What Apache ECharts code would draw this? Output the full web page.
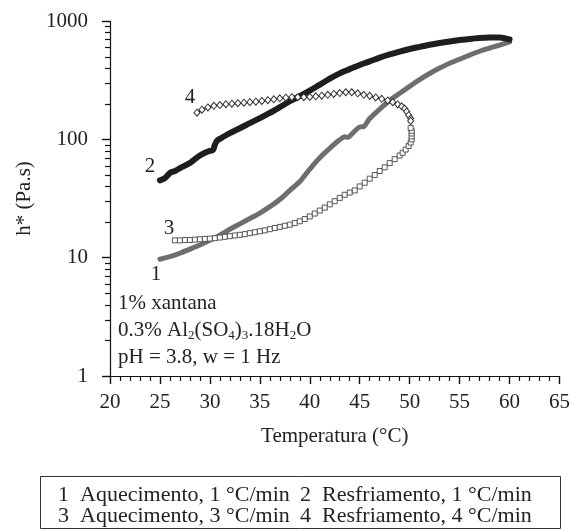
<!DOCTYPE html>
<html>
<head>
<meta charset="utf-8">
<title>Viscosidade complexa x temperatura</title>
<script src="https://cdn.jsdelivr.net/npm/echarts@6.0.0/dist/echarts.min.js"></script>
<style>
  html, body { margin: 0; padding: 0; background: #fff; }
  #chart { width: 573px; height: 530px; }
</style>
</head>
<body>
<div id="chart"></div>
<script>
const FONT = '"Liberation Serif", "Times New Roman", serif';

// Curve 1: heating at 1 °C/min  [temperature °C, h* Pa.s]
const heating1 = [
  [25, 9.7], [26, 10.2], [27, 10.9], [28, 11.8], [29, 12.8], [30, 14.0], [31, 15.5],
  [32, 17.4], [33, 19.3], [34, 21.4], [35, 23.8], [36, 27], [37, 31], [38, 37],
  [39, 44], [40, 56], [41, 70], [42, 84], [43, 99], [43.5, 105], [43.8, 104],
  [44.3, 113], [45, 127], [45.4, 128], [46, 150], [47, 180], [48, 213], [49, 245],
  [50, 280], [51, 320], [52, 360], [53, 400], [54, 440], [55, 475], [56, 515],
  [57, 555], [58, 590], [59, 625], [60, 665]
];

// Curve 2: cooling at 1 °C/min
const cooling1 = [
  [25, 45], [25.5, 47], [26, 52], [26.5, 54], [27, 57], [27.5, 60], [28, 63],
  [28.5, 68], [29, 73], [29.5, 77], [30, 80], [30.3, 81], [30.5, 90], [30.7, 97],
  [31, 101], [32, 113], [33, 124], [34, 137], [35, 151], [36, 167], [37, 187],
  [38, 210], [39, 232], [40, 258], [41, 290], [42, 326], [43, 361], [44, 392],
  [45, 425], [46, 456], [47, 490], [48, 522], [49, 552], [50, 580], [51, 605],
  [52, 630], [53, 652], [54, 672], [55, 690], [56, 706], [57, 718], [58, 725],
  [59, 727], [60, 700]
];

// Curve 3: heating at 3 °C/min
const heating3 = [
  [26.5, 14.0], [27, 14.0], [27.5, 14.1], [28, 14.1], [28.5, 14.2], [29, 14.3],
  [29.5, 14.4], [30, 14.5], [30.5, 14.6], [31, 14.8], [31.5, 15.0], [32, 15.2],
  [32.5, 15.4], [33, 15.6], [33.5, 15.8], [34, 16.1], [34.5, 16.4], [35, 16.7],
  [35.5, 17.0], [36, 17.4], [36.5, 17.8], [37, 18.2], [37.5, 18.6], [38, 19.0],
  [38.5, 19.6], [39, 20.3], [39.5, 21.2], [40, 22.3], [40.5, 23.6], [41, 25.0],
  [41.5, 26.5], [42, 28.2], [42.5, 30.0], [43, 32.0], [43.5, 34.0], [44, 35.5],
  [44.5, 37.0], [45, 40], [45.5, 43], [46, 46.5], [46.5, 50], [47, 54], [47.5, 58],
  [48, 63], [48.5, 68], [49, 73], [49.3, 77], [49.6, 82], [49.9, 88], [50.1, 94],
  [50.2, 100], [50.2, 106], [50.2, 112], [50.2, 118], [50.1, 125]
];

// Curve 4: cooling at 4 °C/min
const cooling4 = [
  [28.7, 168], [29.2, 178], [29.8, 186], [30.4, 192], [31, 195], [31.6, 198],
  [32.2, 200], [32.8, 202], [33.4, 204], [34, 206], [34.6, 208], [35.2, 211],
  [35.8, 214], [36.4, 218], [37, 222], [37.6, 225], [38.2, 227], [38.8, 227],
  [39.4, 227], [40, 228], [40.6, 231], [41.2, 234], [41.8, 238], [42.4, 242],
  [43, 246], [43.6, 250], [44.2, 250], [44.8, 245], [45.4, 238], [46, 233],
  [46.6, 226], [47.2, 220], [47.8, 213], [48.3, 206], [48.8, 197], [49.2, 190],
  [49.5, 182], [49.7, 172], [49.9, 160], [50.1, 150], [50.1, 143]
];

// Logarithmic minor tick values on the viscosity axis
const logMinorTicks = [
  2, 3, 4, 5, 6, 7, 8, 9,
  20, 30, 40, 50, 60, 70, 80, 90,
  200, 300, 400, 500, 600, 700, 800, 900
];

const curveTags = ['1', '2', '3', '4'];
const legendRows = [
  ['1  Aquecimento, 1 °C/min', '2  Resfriamento, 1 °C/min'],
  ['3  Aquecimento, 3 °C/min', '4  Resfriamento, 4 °C/min']
];
const noteLines = [
  '1% xantana',
  '{t|0.3% Al}{s|2}{t|(SO}{s|4}{t|)}{s|3}{t|.18H}{s|2}{t|O}',
  'pH = 3.8, w = 1 Hz'
];

// Tag the first point of a curve with its number
function tagFirst(points, tag, offset) {
  return points.map((p, i) => i === 0 ? {
    value: p,
    label: {
      show: true, position: 'inside', offset: offset, formatter: tag,
      fontFamily: FONT, fontSize: 21, color: '#222'
    }
  } : p);
}

const chart = echarts.init(document.getElementById('chart'), null, { renderer: 'canvas' });

const axisColor = '#111';
const textColor = '#222';

function legendText(x, y, text) {
  return {
    type: 'text', x: x, y: y,
    style: { text: text, fontFamily: FONT, fontSize: 22, fill: textColor, verticalAlign: 'middle' }
  };
}

const option = {
  backgroundColor: '#fff',
  animation: false,
  grid: { left: 110, right: 12, top: 21, bottom: 154, containLabel: false },
  xAxis: {
    type: 'value',
    min: 20, max: 65, interval: 5,
    name: 'Temperatura (°C)',
    nameLocation: 'middle',
    nameGap: 50,
    nameTextStyle: { fontFamily: FONT, fontSize: 21, color: textColor },
    axisLine: { show: true, lineStyle: { color: axisColor, width: 1.2 } },
    axisTick: { show: true, inside: false, length: 8, lineStyle: { color: axisColor, width: 1.4 } },
    minorTick: { show: true, splitNumber: 5, length: 5, lineStyle: { color: axisColor, width: 1.2 } },
    axisLabel: { fontFamily: FONT, fontSize: 21, color: textColor, margin: 16 },
    splitLine: { show: false },
    minorSplitLine: { show: false }
  },
  yAxis: {
    type: 'log',
    logBase: 10,
    min: 1, max: 1000,
    name: 'h* (Pa.s)',
    nameLocation: 'middle',
    nameRotate: 90,
    nameGap: 61,
    nameTextStyle: { fontFamily: FONT, fontSize: 21, color: textColor },
    axisLine: { show: true, lineStyle: { color: axisColor, width: 1.2 } },
    axisTick: { show: true, inside: false, length: 8, lineStyle: { color: axisColor, width: 1.4 } },
    minorTick: { show: false },
    axisLabel: {
      fontFamily: FONT, fontSize: 21, color: textColor, margin: 22,
      formatter: v => String(Math.round(v))
    },
    splitLine: { show: false }
  },
  series: [
    {
      name: 'Aquecimento, 1 °C/min',
      type: 'line',
      data: tagFirst(heating1, curveTags[0], [-4, 15]),
      symbol: 'circle', symbolSize: 0, showAllSymbol: true,
      smooth: 0.3,
      lineStyle: { color: '#6e6e6e', width: 5, cap: 'round', join: 'round' },
      itemStyle: { color: '#6e6e6e' },
      z: 2
    },
    {
      name: 'Resfriamento, 1 °C/min',
      type: 'line',
      data: tagFirst(cooling1, curveTags[1], [-10, -14]),
      symbol: 'circle', symbolSize: 0, showAllSymbol: true,
      smooth: 0.3,
      lineStyle: { color: '#1e1e1e', width: 6, cap: 'round', join: 'round' },
      itemStyle: { color: '#1e1e1e' },
      z: 3
    },
    {
      name: 'Aquecimento, 3 °C/min',
      type: 'line',
      data: tagFirst(heating3, curveTags[2], [-6, -12]),
      symbol: 'rect', symbolSize: 5, showAllSymbol: true,
      lineStyle: { color: '#444', width: 1 },
      itemStyle: { color: '#fff', borderColor: '#555', borderWidth: 1 },
      z: 4
    },
    {
      name: 'Resfriamento, 4 °C/min',
      type: 'line',
      data: tagFirst(cooling4, curveTags[3], [-7, -15]),
      symbol: 'diamond', symbolSize: [6, 7], showAllSymbol: true,
      lineStyle: { color: '#000', width: 1.6 },
      itemStyle: { color: '#fff', borderColor: '#333', borderWidth: 1 },
      z: 5
    },
    {
      // log-style minor ticks (2..9 of each decade) on the viscosity axis
      type: 'custom',
      silent: true,
      clip: false,
      data: logMinorTicks.map(v => [20, v]),
      renderItem(params, api) {
        const p = api.coord([api.value(0), api.value(1)]);
        const y = Math.round(p[1]) + 0.5;
        return {
          type: 'line',
          shape: { x1: p[0] - 5, y1: y, x2: p[0], y2: y },
          style: { stroke: axisColor, lineWidth: 1.2 }
        };
      },
      z: 6
    }
  ],
  graphic: [
    {
      type: 'text', x: 118, y: 303,
      style: { text: noteLines[0], fontFamily: FONT, fontSize: 21, fill: textColor, verticalAlign: 'middle' }
    },
    {
      type: 'text', x: 118, y: 330,
      style: {
        text: noteLines[1], verticalAlign: 'middle',
        rich: {
          t: { fontFamily: FONT, fontSize: 21, fill: textColor, lineHeight: 25 },
          s: { fontFamily: FONT, fontSize: 13, fill: textColor, lineHeight: 14, verticalAlign: 'bottom' }
        }
      }
    },
    {
      type: 'text', x: 118, y: 357,
      style: { text: noteLines[2], fontFamily: FONT, fontSize: 21, fill: textColor, verticalAlign: 'middle' }
    },
    {
      type: 'rect',
      shape: { x: 40.5, y: 476.5, width: 520, height: 52 },
      style: { fill: 'none', stroke: '#333', lineWidth: 1 }
    },
    legendText(58, 495, legendRows[0][0]),
    legendText(300, 495, legendRows[0][1]),
    legendText(58, 516, legendRows[1][0]),
    legendText(300, 516, legendRows[1][1])
  ]
};

chart.setOption(option);
</script>
</body>
</html>
